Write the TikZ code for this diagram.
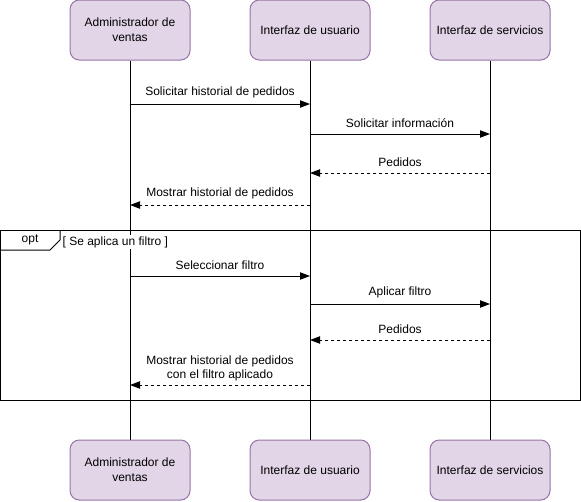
\documentclass[tikz,border=0pt]{standalone}
\usepackage{fontspec}
\setmainfont{Liberation Sans}
\usetikzlibrary{arrows.meta}
\usetikzlibrary{positioning}
\definecolor{actorfill}{HTML}{E1D5E7}
\definecolor{actordraw}{HTML}{9673A6}
\tikzset{actor/.style={rectangle,fill=actorfill,draw=actordraw,line width=0.75pt,
rounded corners=7pt, minimum width=90pt, minimum height=45pt, inner sep=2pt,
align=center, font=\fontsize{9}{11}\selectfont},
life/.style={line width=0.75pt},
msg/.style={->,line width=0.75pt},
reply/.style={msg,dash pattern=on 2.25pt off 2.25pt},
lbl/.style={above=3.5pt, inner sep=1pt, align=center, font=\fontsize{9}{10.5}\selectfont},
frame/.style={line width=0.75pt},
>={Triangle[length=7.5pt,width=5.5pt]}}

\begin{document}
\begin{tikzpicture}[x=0.75pt,y=-0.75pt]
  \useasboundingbox (0,0) rectangle (581,501);
  % participants
  \node (adm) [actor] at (130,30) {Administrador de\\ventas};
  \node (usr) [actor] at (310,30) {Interfaz de usuario};
  \node (srv) [actor] at (490,30) {Interfaz de servicios};
  \node (adm2) [actor] at (130,470) {Administrador de\\ventas};
  \node (usr2) [actor] at (310,470) {Interfaz de usuario};
  \node (srv2) [actor] at (490,470) {Interfaz de servicios};
  \draw [life] (adm) -- (adm2);
  \draw [life] (usr) -- (usr2);
  \draw [life] (srv) -- (srv2);

  % message points on the lifelines
  \foreach \n/\y in {1/104,2/134,3/173,4/205,5/276,6/304,7/340,8/385} {
    \coordinate (a\n) at (130,\y);
    \coordinate (u\n) at (310,\y);
    \coordinate (s\n) at (490,\y);
  }

  % opt fragment
  \coordinate (fnw) at (0,230);
  \coordinate (fse) at (580,400);
  \draw [frame] (fnw) rectangle (fse);
  \draw [frame] (0,250) -- (50,250) -- (60,240) -- (60,230);
  \node (opt) [font=\fontsize{9}{10}\selectfont] at (30,240) {opt};
  \node (guard) [right, fill=white, inner sep=1pt, font=\fontsize{9}{10}\selectfont]
    at (61,242) {[ Se aplica un filtro ]};

  \draw [msg] (a1) -- node [lbl] {Solicitar historial de pedidos} (u1);
  \draw [msg] (u2) -- node [lbl] {Solicitar información} (s2);
  \draw [reply] (s3) -- node [lbl] {Pedidos} (u3);
  \draw [reply] (u4) -- node [lbl] {Mostrar historial de pedidos} (a4);
  \draw [msg] (a5) -- node [lbl] {Seleccionar filtro} (u5);
  \draw [msg] (u6) -- node [lbl] {Aplicar filtro} (s6);
  \draw [reply] (s7) -- node [lbl] {Pedidos} (u7);
  \draw [reply] (u8) -- node [lbl, above=1.5pt] {Mostrar historial de pedidos\\con el filtro aplicado} (a8);
\end{tikzpicture}
\end{document}
